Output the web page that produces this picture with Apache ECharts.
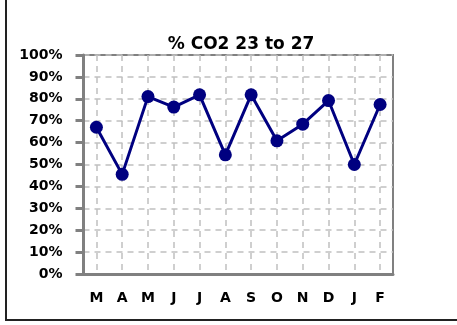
<!DOCTYPE html>
<html><head><meta charset="utf-8">
<script src="https://cdn.jsdelivr.net/npm/echarts@6/dist/echarts.min.js"></script>
<style>html,body{margin:0;padding:0;background:#fff}#c{width:457px;height:325px}</style>
</head><body><div id="c"></div>
<script>
const titleText = '% CO2 23 to 27';
const categories = ['M','A','M','J','J','A','S','O','N','D','J','F'];
const co2Values = [67, 45.5, 81, 76.2, 81.8, 54.4, 81.8, 60.8, 68.4, 79.2, 50, 77.4];
const yTicks = [0,10,20,30,40,50,60,70,80,90,100];

const chart = echarts.init(document.getElementById('c'), null, {renderer:'canvas'});
const font = 'DejaVu Sans';
chart.setOption({
  animation:false,
  backgroundColor:'#fff',
  title:{text:titleText,left:236,textAlign:'center',top:31,
    textStyle:{fontFamily:font,fontWeight:'bold',fontSize:17,color:'#000'}},
  grid:{left:83.5,right:64,top:55,bottom:51,show:true,borderColor:'#808080',borderWidth:2,backgroundColor:'transparent'},
  graphic:[{type:'polyline',shape:{points:[[6,0],[6,320],[457,320]]},style:{stroke:'#222',lineWidth:2,fill:null}}],
  xAxis:{type:'category',data:categories,boundaryGap:true,
    axisLine:{lineStyle:{color:'#808080',width:3}},
    axisTick:{alignWithLabel:true,length:8,lineStyle:{color:'#808080',width:3}},
    axisLabel:{margin:17,fontFamily:font,fontWeight:'bold',fontSize:14,color:'#000'},
    splitLine:{show:true,alignWithLabel:true,lineStyle:{color:'#c0c0c0',type:[6,5],width:1.5}}},
  yAxis:{type:'value',min:yTicks[0],max:yTicks[yTicks.length-1],interval:10,
    axisLine:{show:true,lineStyle:{color:'#808080',width:3}},
    axisTick:{show:true,length:8,lineStyle:{color:'#808080',width:3}},
    axisLabel:{margin:21,fontFamily:font,fontWeight:'bold',fontSize:14,color:'#000',formatter:'{value}%'},
    splitLine:{show:true,lineStyle:{color:'#c0c0c0',type:[6,5],width:1.5}}},
  series:[{type:'line',data:co2Values,symbol:'circle',symbolSize:13,
    lineStyle:{color:'#000080',width:3},itemStyle:{color:'#000080'}}]
});
</script></body></html>
